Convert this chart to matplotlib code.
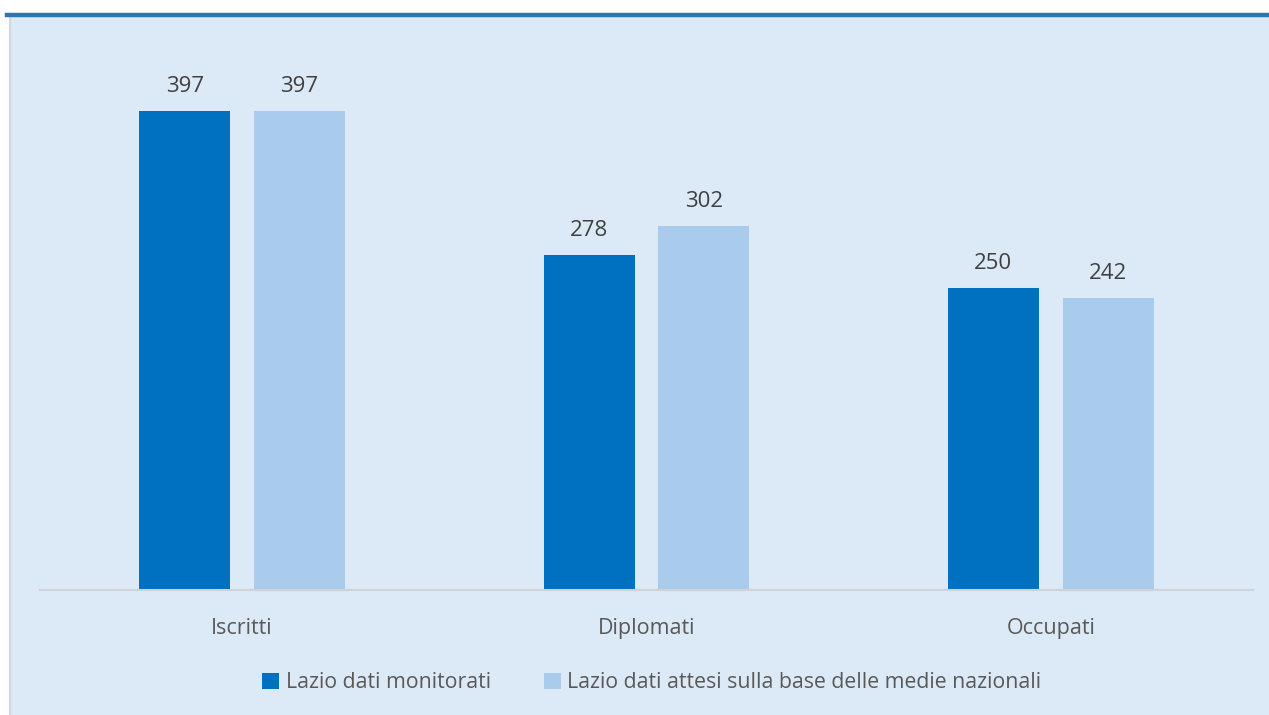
import matplotlib.pyplot as plt
from matplotlib.patches import Rectangle
from matplotlib.lines import Line2D
import numpy as np

categories = ['Iscritti', 'Diplomati', 'Occupati']
monitorati = [397, 278, 250]
attesi = [397, 302, 242]
series_names = ['Lazio dati monitorati',
                'Lazio dati attesi sulla base delle medie nazionali']

dark = '#0070C0'
light = '#A9CBEC'
bg = '#DCE9F6'
txt = '#595959'

plt.rcParams['font.family'] = ['Open Sans', 'DejaVu Sans']

W, H = 1269, 715
fig = plt.figure(figsize=(W / 100, H / 100), dpi=100, facecolor='white')

# panel background + frame
fig.patches.append(Rectangle((9 / W, 0), 1 - 9 / W, 1 - 17 / H,
                             transform=fig.transFigure, facecolor=bg,
                             edgecolor='none', zorder=-10))
fig.lines.append(Line2D([9.5 / W, 9.5 / W], [0, 1 - 17 / H],
                        transform=fig.transFigure, color='#D4D8DC', lw=1.5))
fig.lines.append(Line2D([7 / W, 1], [1 - 15 / H, 1 - 15 / H],
                        transform=fig.transFigure, color='#2E75B6', lw=3.2))

ax = fig.add_axes([40 / W, (H - 590) / H, 1213 / W, 543 / H])
ax.set_facecolor('none')

x = np.arange(len(categories))
off = 0.142
w = 0.225
b1 = ax.bar(x - off, monitorati, w, color=dark, label=series_names[0])
b2 = ax.bar(x + off, attesi, w, color=light, label=series_names[1])

for bars, vals in ((b1, monitorati), (b2, attesi)):
    for r, v in zip(bars, vals):
        ax.annotate(str(v), (r.get_x() + r.get_width() / 2, v),
                    xytext=(0, 13.7), textcoords='offset points',
                    ha='center', va='baseline', fontsize=16,
                    color='#404040')

ax.set_xlim(-0.5, 2.5)
ax.set_ylim(0, 450)
ax.set_xticks(x)
ax.set_xticklabels(categories, fontsize=15.5, color=txt)
ax.tick_params(axis='x', length=0, pad=20)
ax.set_yticks([])
for s in ('top', 'right', 'left'):
    ax.spines[s].set_visible(False)
ax.spines['bottom'].set_color('#CDD3D9')
ax.spines['bottom'].set_linewidth(1.5)

fig.legend(loc='center', bbox_to_anchor=(652 / W, (H - 683) / H), ncol=2,
           frameon=False, fontsize=15.3, labelcolor=txt, handlelength=0.8,
           handleheight=0.8, handletextpad=0.3, columnspacing=2.5)

fig.savefig('out.png', dpi=100, facecolor='white')
